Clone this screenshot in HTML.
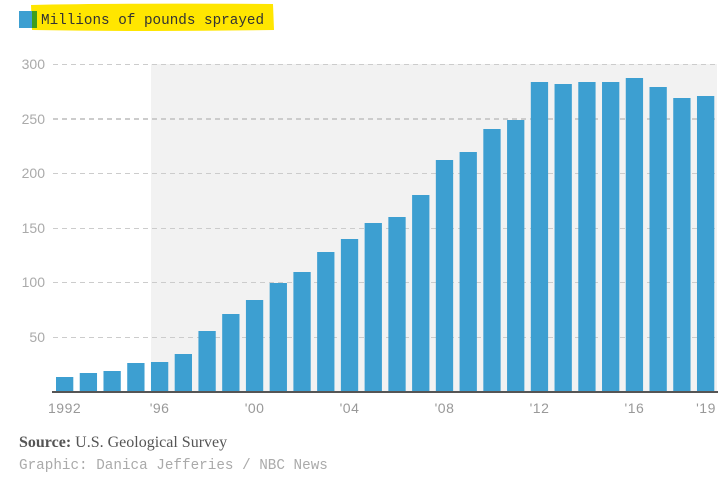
<!DOCTYPE html>
<html><head><meta charset="utf-8"><style>
html,body{margin:0;padding:0;background:#fff;}
body{width:726px;height:477px;overflow:hidden;position:relative;}
svg{position:absolute;left:0;top:0;}
</style></head><body>
<svg width="726" height="477" viewBox="0 0 726 477" xmlns="http://www.w3.org/2000/svg">
  <!-- legend -->
  <path d="M31,5 Q120,3 273,4 L274,30 Q150,32 32,30 Z" fill="#ffe600"/>
  <rect x="19" y="11" width="13" height="17" fill="#3d9fd1"/>
  <rect x="32" y="11" width="5" height="17" fill="#3f9e1c"/>
  <text x="41" y="24" font-family="Liberation Mono, monospace" font-size="14.3" fill="#333">Millions of pounds sprayed</text>

  <!-- grey band -->
  <rect x="151" y="64" width="566" height="327" fill="#f2f2f2"/>

  <!-- gridlines -->
  <g stroke="#cccccc" stroke-dasharray="5,4" fill="none">
    <line x1="53" y1="64.5" x2="717" y2="64.5" stroke-width="1"/>
    <line x1="53" y1="119" x2="717" y2="119" stroke-width="2"/>
    <line x1="53" y1="173.5" x2="717" y2="173.5" stroke-width="1"/>
    <line x1="53" y1="228.5" x2="717" y2="228.5" stroke-width="1"/>
    <line x1="53" y1="282.5" x2="717" y2="282.5" stroke-width="1"/>
    <line x1="53" y1="337.5" x2="717" y2="337.5" stroke-width="1"/>
  </g>

  <!-- y labels -->
  <g font-family="Liberation Sans, sans-serif" font-size="14" fill="#aaaaaa" text-anchor="end">
    <text x="45" y="69">300</text>
    <text x="45" y="124">250</text>
    <text x="45" y="178">200</text>
    <text x="45" y="233">150</text>
    <text x="45" y="287">100</text>
    <text x="45" y="342">50</text>
  </g>

  <!-- bars -->
  <g fill="#3d9fd1">
    <rect x="56" y="377" width="17.3" height="14"/>
    <rect x="79.74" y="373" width="17.3" height="18"/>
    <rect x="103.48" y="371" width="17.3" height="20"/>
    <rect x="127.22" y="363" width="17.3" height="28"/>
    <rect x="150.96" y="362" width="17.3" height="29"/>
    <rect x="174.7" y="354" width="17.3" height="37"/>
    <rect x="198.44" y="331" width="17.3" height="60"/>
    <rect x="222.18" y="314" width="17.3" height="77"/>
    <rect x="245.92" y="300" width="17.3" height="91"/>
    <rect x="269.66" y="283" width="17.3" height="108"/>
    <rect x="293.4" y="272" width="17.3" height="119"/>
    <rect x="317.14" y="252" width="17.3" height="139"/>
    <rect x="340.88" y="239" width="17.3" height="152"/>
    <rect x="364.62" y="223" width="17.3" height="168"/>
    <rect x="388.36" y="217" width="17.3" height="174"/>
    <rect x="412.1" y="195" width="17.3" height="196"/>
    <rect x="435.84" y="160" width="17.3" height="231"/>
    <rect x="459.58" y="152" width="17.3" height="239"/>
    <rect x="483.32" y="129" width="17.3" height="262"/>
    <rect x="507.06" y="120" width="17.3" height="271"/>
    <rect x="530.8" y="82" width="17.3" height="309"/>
    <rect x="554.54" y="84" width="17.3" height="307"/>
    <rect x="578.28" y="82" width="17.3" height="309"/>
    <rect x="602.02" y="82" width="17.3" height="309"/>
    <rect x="625.76" y="78" width="17.3" height="313"/>
    <rect x="649.5" y="87" width="17.3" height="304"/>
    <rect x="673.24" y="98" width="17.3" height="293"/>
    <rect x="696.98" y="96" width="17.3" height="295"/>
  </g>

  <!-- axis -->
  <rect x="52" y="391" width="666" height="2" fill="#555555"/>

  <!-- x labels -->
  <g font-family="Liberation Sans, sans-serif" font-size="14" fill="#999999" text-anchor="middle" letter-spacing="0.5">
    <text x="64.6" y="413">1992</text>
    <text x="159.6" y="413">'96</text>
    <text x="254.6" y="413">'00</text>
    <text x="349.5" y="413">'04</text>
    <text x="444.5" y="413">'08</text>
    <text x="539.5" y="413">'12</text>
    <text x="634.4" y="413">'16</text>
    <text x="706" y="413">'19</text>
  </g>

  <!-- footer -->
  <text x="19" y="447" font-family="Liberation Serif, serif" font-size="16" fill="#555"><tspan font-weight="bold">Source:</tspan> U.S. Geological Survey</text>
  <text x="19" y="469" font-family="Liberation Mono, monospace" font-size="14.3" fill="#aaaaaa">Graphic: Danica Jefferies / NBC News</text>
</svg>
</body></html>
